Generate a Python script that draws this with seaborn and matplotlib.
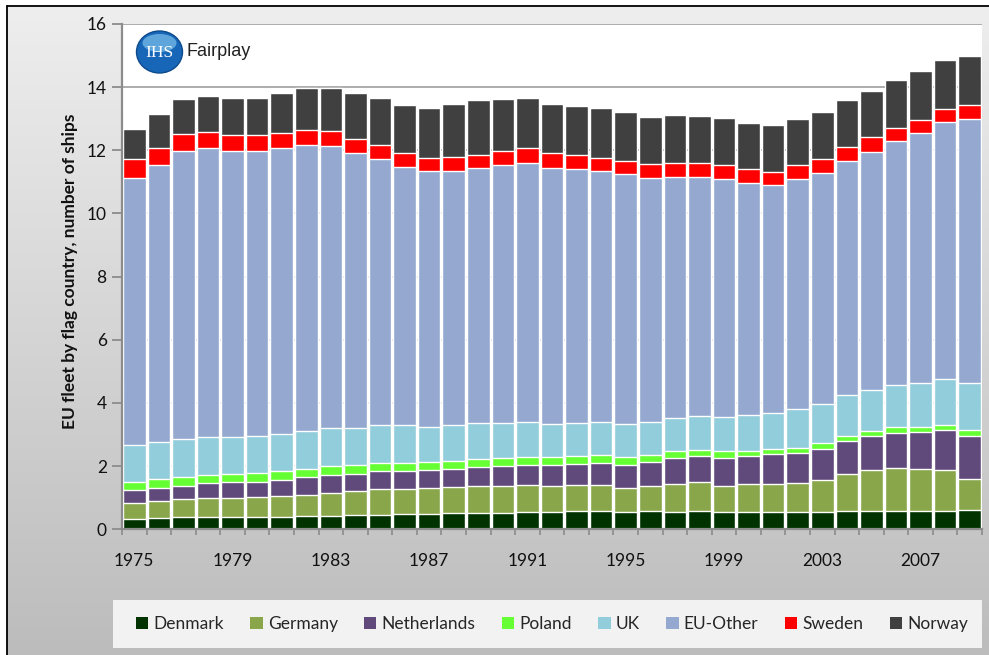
import numpy as np
import pandas as pd
import matplotlib
matplotlib.use('Agg')
import matplotlib.pyplot as plt
import seaborn as sns
from matplotlib.patches import Ellipse, Rectangle
from matplotlib.colors import LinearSegmentedColormap

years = list(range(1975, 2010))
denmark = [0.33, 0.36, 0.39, 0.39, 0.39, 0.39, 0.39, 0.43, 0.43, 0.46,
           0.46, 0.49, 0.49, 0.53, 0.53, 0.53, 0.56, 0.56, 0.59, 0.59,
           0.56, 0.59, 0.56, 0.59, 0.56, 0.56, 0.56, 0.56, 0.56, 0.59,
           0.59, 0.59, 0.59, 0.59, 0.62]
germany = [0.51, 0.53, 0.56, 0.59, 0.59, 0.62, 0.65, 0.65, 0.72, 0.75,
           0.82, 0.79, 0.82, 0.81, 0.84, 0.84, 0.84, 0.81, 0.81, 0.81,
           0.75, 0.78, 0.87, 0.91, 0.81, 0.87, 0.87, 0.91, 1.00, 1.16,
           1.29, 1.36, 1.33, 1.29, 0.97]
netherlands = [0.41, 0.43, 0.43, 0.48, 0.51, 0.48, 0.51, 0.57, 0.57, 0.54,
               0.56, 0.56, 0.57, 0.57, 0.60, 0.63, 0.63, 0.66, 0.67, 0.70,
               0.72, 0.76, 0.84, 0.83, 0.90, 0.90, 0.96, 0.95, 0.99, 1.05,
               1.06, 1.09, 1.15, 1.25, 1.37]
poland = [0.26, 0.26, 0.27, 0.25, 0.26, 0.28, 0.29, 0.26, 0.28, 0.28,
          0.26, 0.26, 0.26, 0.26, 0.25, 0.27, 0.26, 0.26, 0.26, 0.26,
          0.26, 0.23, 0.20, 0.19, 0.20, 0.16, 0.14, 0.16, 0.17, 0.16,
          0.16, 0.19, 0.16, 0.16, 0.17]
uk = [1.15, 1.17, 1.20, 1.20, 1.16, 1.17, 1.18, 1.20, 1.21, 1.18,
      1.20, 1.20, 1.10, 1.13, 1.14, 1.09, 1.11, 1.04, 1.03, 1.04,
      1.04, 1.04, 1.05, 1.07, 1.08, 1.13, 1.15, 1.24, 1.26, 1.28,
      1.30, 1.33, 1.39, 1.46, 1.49]
eu_other = [8.46, 8.78, 9.13, 9.17, 9.07, 9.04, 9.06, 9.06, 8.93, 8.71,
            8.43, 8.17, 8.10, 8.04, 8.07, 8.17, 8.19, 8.10, 8.04, 7.94,
            7.91, 7.72, 7.63, 7.56, 7.54, 7.34, 7.22, 7.27, 7.30, 7.42,
            7.56, 7.72, 7.92, 8.15, 8.36]
sweden = [0.60, 0.55, 0.55, 0.49, 0.49, 0.49, 0.48, 0.46, 0.46, 0.44,
          0.44, 0.43, 0.43, 0.45, 0.43, 0.46, 0.47, 0.47, 0.44, 0.43,
          0.42, 0.45, 0.44, 0.44, 0.44, 0.44, 0.40, 0.44, 0.44, 0.45,
          0.45, 0.44, 0.43, 0.41, 0.46]
norway = [0.97, 1.07, 1.10, 1.16, 1.20, 1.20, 1.27, 1.33, 1.36, 1.44,
          1.50, 1.52, 1.57, 1.68, 1.72, 1.62, 1.61, 1.57, 1.57, 1.57,
          1.55, 1.48, 1.52, 1.49, 1.49, 1.46, 1.50, 1.45, 1.49, 1.49,
          1.48, 1.52, 1.53, 1.54, 1.54]

countries = ['Denmark', 'Germany', 'Netherlands', 'Poland', 'UK', 'EU-Other', 'Sweden', 'Norway']
colors = ['#003300', '#8aa64b', '#604a7b', '#66ff33', '#92cddc', '#95a9d0', '#ff0000', '#404040']

df = pd.DataFrame({'year': years, 'Denmark': denmark, 'Germany': germany,
                   'Netherlands': netherlands, 'Poland': poland, 'UK': uk,
                   'EU-Other': eu_other, 'Sweden': sweden, 'Norway': norway})
# running totals -> draw from the top layer down, each one from zero
cum = df[countries].cumsum(axis=1)
cum['year'] = df['year']

sns.set_style('white')
plt.rcParams['font.family'] = ['Lato', 'DejaVu Sans']

fig = plt.figure(figsize=(9.89, 6.55), dpi=100)
W, H = 989, 655

# grey gradient frame behind everything
bg = fig.add_axes([0, 0, 1, 1], zorder=-10)
grad = np.linspace(0, 1, 256).reshape(-1, 1)
cmap = LinearSegmentedColormap.from_list('bg', ['#bcbcbc', '#eeeeee'])
bg.imshow(grad, aspect='auto', cmap=cmap, origin='lower',
          extent=[7 / W, 1, 0, 1 - 6 / H])
bg.plot([7 / W, 7 / W], [0, 1 - 6 / H], color='black', lw=1.3)
bg.plot([7 / W, 1], [1 - 6 / H, 1 - 6 / H], color='black', lw=1.3)
bg.set_xlim(0, 1)
bg.set_ylim(0, 1)
bg.axis('off')

ax = fig.add_axes([122 / W, 1 - 529.3 / H, 860 / W, 505.3 / H])
ax.set_facecolor('white')

for name, color in reversed(list(zip(countries, colors))):
    sns.barplot(data=cum, x='year', y=name, color=color, saturation=1,
                width=0.92, errorbar=None, ax=ax)

ax.set_ylim(0, 16)
ax.set_yticks(range(0, 17, 2))
ax.set_xlim(-0.5, 34.5)
ax.set_xticks(range(0, 35, 4))
ax.set_xticklabels([str(y) for y in years[::4]])
ax.set_xticks(np.arange(-0.5, 35, 1), minor=True)
ax.yaxis.grid(True, color='#a6a6a6', lw=1.3)
ax.set_axisbelow(True)

ax.tick_params(axis='y', left=True, length=7, width=1.3, color='#8c8c8c',
               labelsize=12.5, pad=4, labelcolor='#111111')
ax.tick_params(axis='x', which='major', bottom=True, length=0, pad=17,
               labelsize=12.5, labelcolor='#111111')
ax.tick_params(axis='x', which='minor', bottom=True, length=4, width=1.2,
               color='#8c8c8c')
for side in ['top', 'right']:
    ax.spines[side].set_visible(False)
for side in ['left', 'bottom']:
    ax.spines[side].set_color('#8c8c8c')
    ax.spines[side].set_linewidth(1.6)

ax.set_xlabel('')
ax.set_ylabel('EU fleet by flag country, number of ships', fontsize=12.5,
              fontweight='bold', color='#111111')
ax.yaxis.set_label_coords(-0.051, 0.51)

# IHS Fairplay logo
fig.add_artist(Ellipse((159.5 / W, 1 - 52 / H), 46 / W, 42 / H,
                       transform=fig.transFigure, facecolor='#1766b8',
                       edgecolor='#0d4a8c', lw=1))
fig.add_artist(Ellipse((159.5 / W, 1 - 43 / H), 34 / W, 18 / H,
                       transform=fig.transFigure, facecolor='#8fd0f5',
                       edgecolor='none', alpha=0.6))
fig.text(159.5 / W, 1 - 53 / H, 'IHS', color='white', fontsize=12.5,
         family=['Liberation Serif', 'DejaVu Serif'], ha='center', va='center')
fig.text(187 / W, 1 - 52 / H, 'Fairplay', color='#222222', fontsize=13,
         family=['Liberation Sans', 'DejaVu Sans'], ha='left', va='center')

# legend box at the bottom
fig.add_artist(Rectangle((113 / W, 1 - 648 / H), 869 / W, 48 / H,
                         transform=fig.transFigure, facecolor='#f2f2f2',
                         edgecolor='none'))
handles = [Rectangle((0, 0), 1, 1, facecolor=c, edgecolor='none') for c in colors]
fig.legend(handles, countries, loc='center', ncol=8, mode='expand',
           bbox_to_anchor=(136 / W, 1 - 636 / H, 832 / W, 24 / H),
           frameon=False, fontsize=12.5, handlelength=0.7, handleheight=0.7,
           handletextpad=0.3, borderaxespad=0, borderpad=0)

fig.savefig('out.png', dpi=100)
